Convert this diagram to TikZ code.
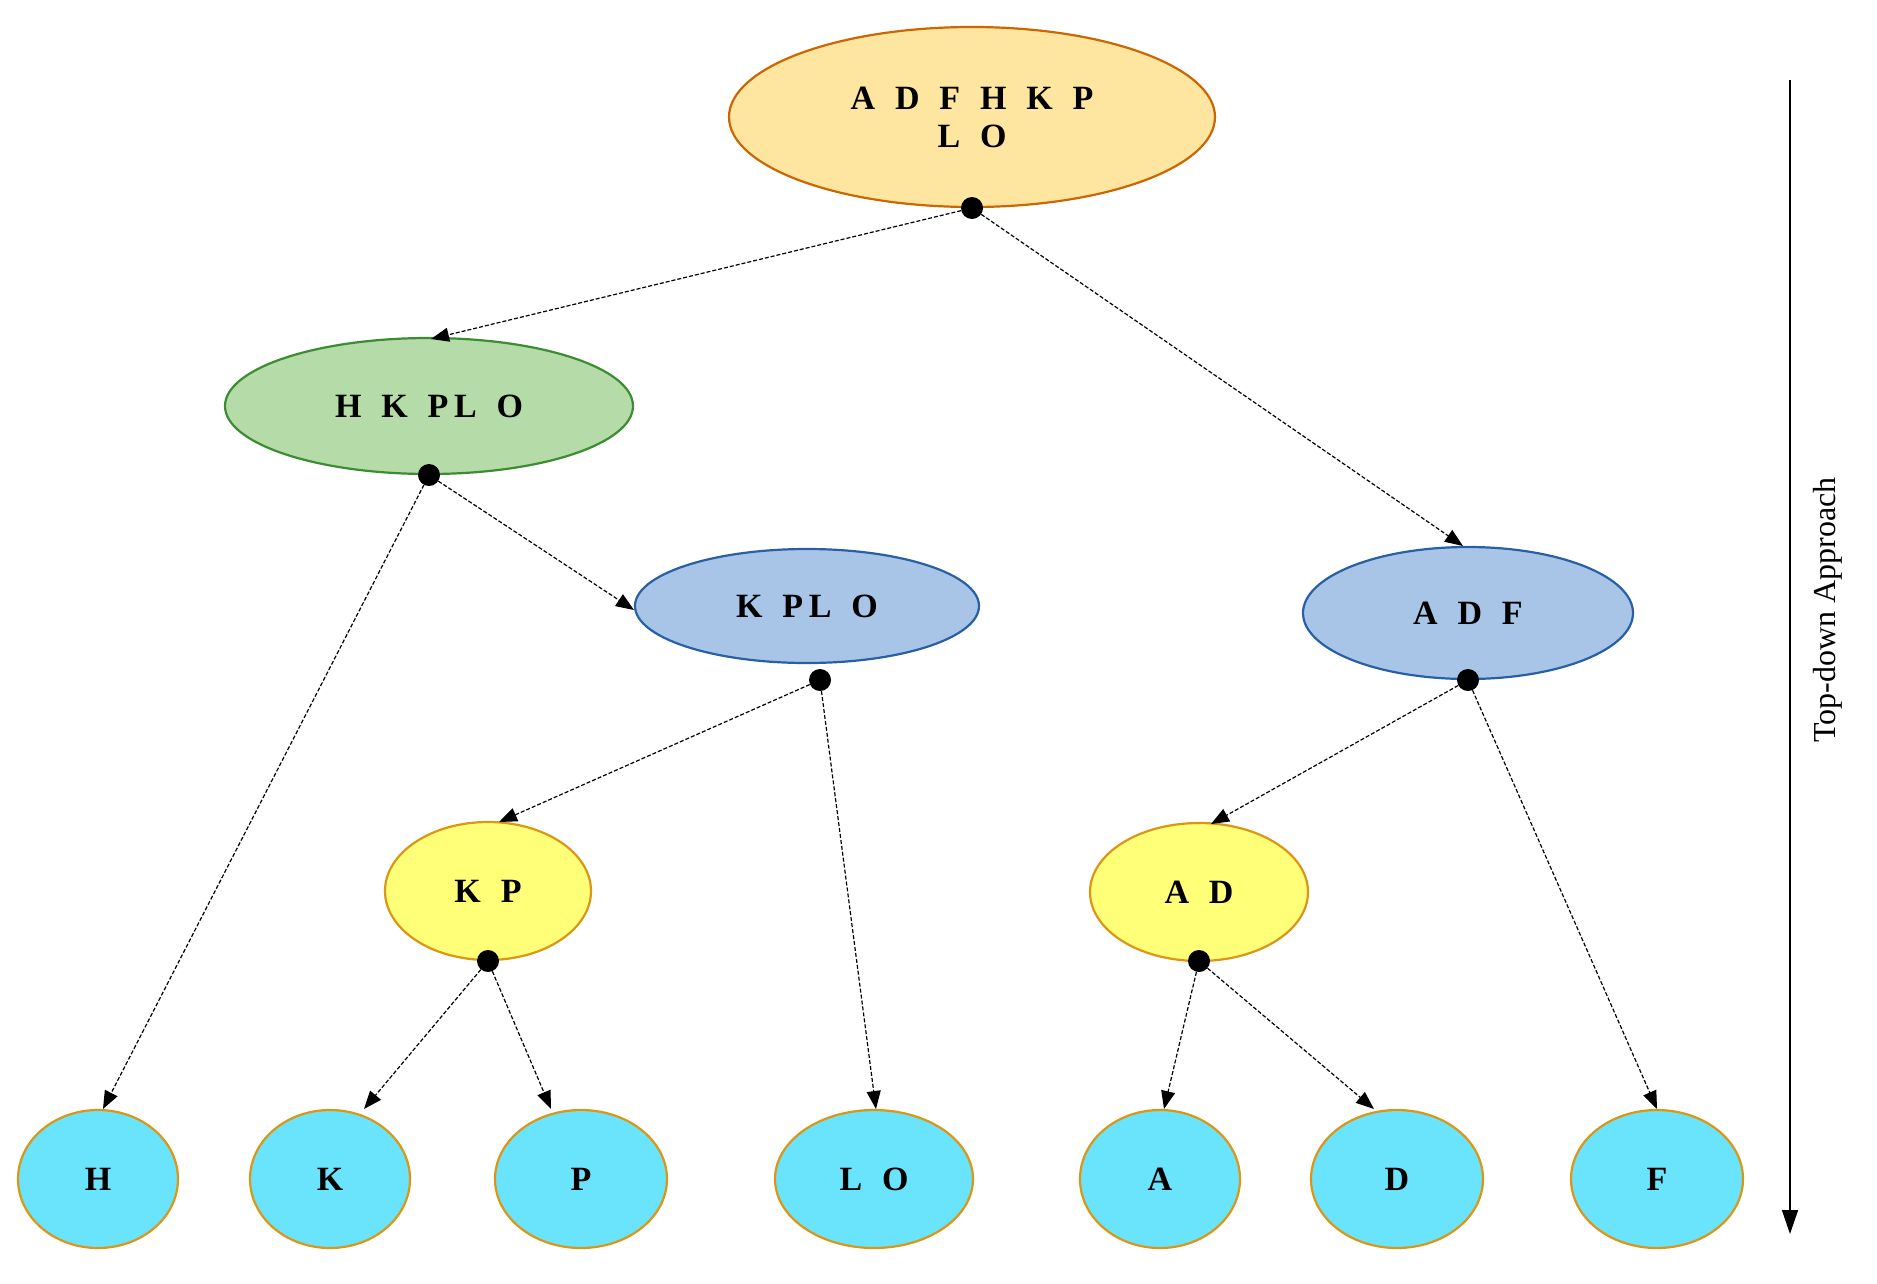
\documentclass[tikz,border=0pt]{standalone}
\usepackage{fontspec}
\setmainfont{Liberation Serif}
\usetikzlibrary{shapes.geometric,arrows.meta}
\begin{document}
\begin{tikzpicture}[x=1pt,y=-1pt,
 el/.style={ellipse,line width=2.2pt,inner sep=0pt,font=\fontsize{34}{38}\selectfont\bfseries,align=center},
 yel/.style={el,fill=yellow!35!orange!30,draw=orange!80!black,fill={rgb,255:red,255;green,230;blue,160}},
 grn/.style={el,fill={rgb,255:red,180;green,219;blue,168},draw={rgb,255:red,60;green,140;blue,50}},
 blu/.style={el,fill={rgb,255:red,168;green,197;blue,232},draw={rgb,255:red,40;green,95;blue,165}},
 ylw/.style={el,fill={rgb,255:red,255;green,255;blue,120},draw={rgb,255:red,220;green,150;blue,20}},
 cyn/.style={el,fill={rgb,255:red,105;green,228;blue,252},draw={rgb,255:red,220;green,150;blue,20}},
 dot/.style={circle,fill=black,inner sep=0pt,minimum size=22pt},
 arr/.style={draw,line width=1.2pt,dash pattern=on 4pt off 2pt,-{Triangle[length=18pt,width=14pt]}}]
\useasboundingbox (0,0) rectangle (1877,1283);
\node[yel,minimum width=486pt,minimum height=180pt] (top) at (972,117) {A\,\, D\,\, F\,\, H\,\, K\,\, P\\L\,\, O};
\node[grn,minimum width=408pt,minimum height=136pt] (hk) at (429,406) {H\,\, K\,\, P\,L\,\, O};
\node[blu,minimum width=344pt,minimum height=114pt] (kp) at (807,606) {K\,\, P\,L\,\, O};
\node[blu,minimum width=330pt,minimum height=132pt] (adf) at (1468,613) {A\,\, D\,\, F};
\node[ylw,minimum width=206pt,minimum height=138pt] (kpn) at (488,891) {K\,\, P};
\node[ylw,minimum width=218pt,minimum height=138pt] (adn) at (1199,892) {A\,\, D};
\foreach \n/\x/\w/\t in {h/98/160/H, k/330/160/K, p/581/172/P, lo/874/198/{L\,\, O}, a/1160/160/A, d/1397/172/D, f/1657/172/F}
  \node[cyn,minimum width=\w pt,minimum height=138pt] (\n) at (\x,1179) {\t};
\node[dot] (d0) at (972,208) {};
\node[dot] (d1) at (429,475) {};
\node[dot] (d2) at (820,680) {};
\node[dot] (d3) at (1468,680) {};
\node[dot] (d4) at (488,961) {};
\node[dot] (d5) at (1199,961) {};
\coordinate (t1) at (431,339); \coordinate (t2) at (1463,546);
\coordinate (t3) at (103,1109); \coordinate (t4) at (634,610);
\coordinate (t5) at (499,822); \coordinate (t6) at (876,1109);
\coordinate (t7) at (1211,824); \coordinate (t8) at (1657,1109);
\coordinate (t9) at (364,1109); \coordinate (t10) at (551,1109);
\coordinate (t11) at (1164,1109); \coordinate (t12) at (1374,1109);
\draw[arr] (d0) -- (t1); \draw[arr] (d0) -- (t2);
\draw[arr] (d1) -- (t3); \draw[arr] (d1) -- (t4);
\draw[arr] (d2) -- (t5); \draw[arr] (d2) -- (t6);
\draw[arr] (d3) -- (t7); \draw[arr] (d3) -- (t8);
\draw[arr] (d4) -- (t9); \draw[arr] (d4) -- (t10);
\draw[arr] (d5) -- (t11); \draw[arr] (d5) -- (t12);
\coordinate (s) at (1790,80); \coordinate (e) at (1790,1234);
\draw[line width=1.5pt,-{Triangle[length=24pt,width=16pt]}] (s) -- (e);
\node[rotate=90,font=\fontsize{32}{36}\selectfont] (lab) at (1828,610) {Top-down Approach};
\end{tikzpicture}
\end{document}
